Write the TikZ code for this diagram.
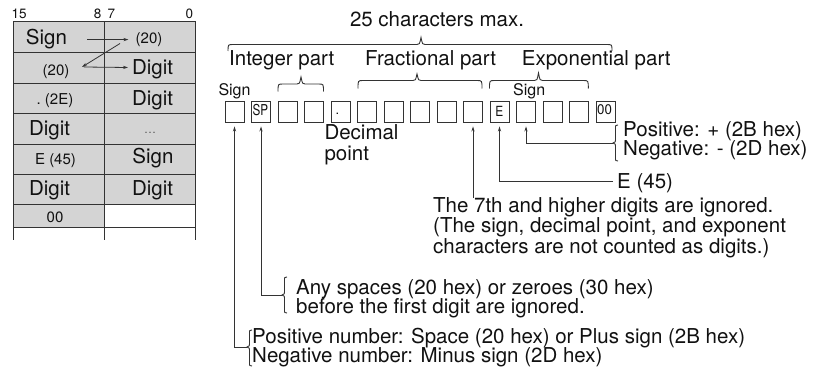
\documentclass[tikz,border=0pt]{standalone}
\usepackage{fontspec}
\usepackage{graphicx}
\setmainfont{TeX Gyre Heros}
\usetikzlibrary{arrows.meta,calc}
\definecolor{linecol}{HTML}{333333}
\definecolor{txtcol}{HTML}{111111}
\definecolor{cellgray}{HTML}{D4D4D4}
\newcommand{\hbrace}[6]{% xa, xb, xtip, yends, yline, ytip
  \draw[bracestyle] (#1,#4) .. controls (#1,#5) .. (#1+5,#5) -- (#3-4,#5)
    .. controls (#3-1.5,#5) .. (#3,#6) .. controls (#3+1.5,#5) .. (#3+4,#5)
    -- (#2-5,#5) .. controls (#2,#5) .. (#2,#4);}
\newcommand{\vbrace}[6]{% xends, xline, xtip, ytop, ybottom, ytip
  \draw[bracestyle] (#1,#4) .. controls (#2,#4) .. (#2,#4+4) -- (#2,#6-3)
    .. controls (#2,#6-1) .. (#3,#6) .. controls (#2,#6+1) .. (#2,#6+3)
    -- (#2,#5-4) .. controls (#2,#5) .. (#1,#5);}
\begin{document}
\begin{tikzpicture}[x=1pt,y=-1pt,
  line/.style={draw=linecol, line width=0.9pt},
  arr/.style={line, -{Stealth[length=5pt,width=3.2pt]}, shorten >=4pt},
  tarr/.style={draw=linecol, line width=0.8pt, -{Stealth[length=5pt,width=3.2pt]}},
  bracestyle/.style={draw=linecol, line width=0.9pt},
  maint/.style={font=\fontsize{20.5}{20}\selectfont, inner sep=0pt, text=txtcol},
  bigt/.style={font=\fontsize{20.5}{20}\selectfont, inner sep=0pt, text=txtcol, anchor=base},
  smallt/.style={font=\fontsize{15}{15}\selectfont, inner sep=0pt, text=txtcol, anchor=base},
  bitt/.style={font=\fontsize{13.5}{13.5}\selectfont, inner sep=0pt, text=txtcol, anchor=base},
  signt/.style={font=\fontsize{16}{16}\selectfont, inner sep=0pt, text=txtcol, anchor=base west},
  chbox/.style={draw=linecol, line width=0.9pt, minimum width=19pt, minimum height=21pt, inner sep=0pt},
  boxt/.style={inner sep=0pt, text=txtcol, anchor=base},
  grid/.style={draw=linecol, line width=1pt},
]
\useasboundingbox (0,0) rectangle (813,369);

% ---------------- table ----------------
\fill[cellgray] (13.3,21.7) rectangle (195.7,204);
\fill[cellgray] (13.3,204) rectangle (104.3,227.7);
\foreach \r in {21.7,52.7,83.3,113.3,144,174,204,227.7}
  \draw[grid] (13.3,\r) -- (195.7,\r);
\foreach \c in {13.3,104.3,195.7}
  \draw[grid] (\c,21.7) -- (\c,240);

\node[bitt, anchor=base west] (n15) at (11.5,18.3) {15};
\node[bitt, anchor=base east] (n8) at (101.7,18.3) {8};
\node[bitt, anchor=base west] (n7) at (107.3,18.3) {7};
\node[bitt, anchor=base east] (n0) at (193.3,18.3) {0};

\node[bigt] (L1) at (46.5,45) {Sign};
\node[smallt] (R1) at (149,44) {(20)};
\node[smallt] (L2) at (56,75) {(20)};
\node[bigt] (R2) at (152.5,74.5) {Digit};
\node[smallt] (L3) at (55,104) {.\ (2E)};
\node[bigt] (R3) at (152.5,105) {Digit};
\node[bigt] (L4) at (49.5,135.5) {Digit};
\node[font=\fontsize{12}{12}\selectfont, inner sep=0pt, text=txtcol!70, anchor=base] (R4) at (150,133) {\ldots};
\node[smallt] (L5) at (55.5,164.5) {E (45)};
\node[bigt] (R5) at (153,163) {Sign};
\node[bigt] (L6) at (49.5,195) {Digit};
\node[bigt] (R6) at (152.5,195) {Digit};
\node[smallt] (L7) at (55,222.5) {00};

\coordinate (z1) at (120,43.5);
\coordinate (z2) at (82,67);
\coordinate (z3) at (128,67.5);
\draw[tarr] ([xshift=20pt]L1.east) -- ([xshift=-7pt]L1.east -| R1.west);
\draw[tarr] (z1) -- (z2);
\draw[tarr] ([xshift=2pt]z2) -- (z3);

% ---------------- characters ----------------
\node[maint, anchor=base] (title) at (437,26.5) {25 characters max.};
\hbrace{228}{612}{421}{51}{44.5}{37.5}
\node[maint, anchor=base west] (intp) at (229,65) {Integer part};
\node[maint, anchor=base west] (frp) at (365,65) {Fractional part};
\node[maint, anchor=base west] (exp) at (521.7,65) {Exponential part};
\hbrace{278}{323.5}{301}{91.5}{84}{77}
\hbrace{358}{482}{417}{88.5}{80.5}{74}
\hbrace{489.5}{588.3}{538.5}{88.5}{80.5}{73}
\node[signt] (sg1) at (218.3,95) {Sign};
\node[signt] (sg2) at (513,95) {Sign};

\foreach \i in {1,...,15}
  \node[chbox] (b\i) at ({234.5+(\i-1)*26.5},111.5) {};
\node[boxt, font=\fontsize{15}{15}\selectfont] (tsp) at (260.3,115) {\scalebox{0.78}[1]{SP}};
\node[boxt, font=\fontsize{13}{13}\selectfont] (tdot) at (337.5,114.5) {.};
\node[boxt, font=\fontsize{14}{14}\selectfont] (tE) at (499.3,116.5) {\scalebox{0.85}[1]{E}};
\node[boxt, font=\fontsize{14}{14}\selectfont, anchor=base west] (t00) at (597,114.5) {\scalebox{0.95}[1]{00}};

\node[maint, anchor=base west] (dec1) at (324.3,139) {Decimal};
\node[maint, anchor=base west] (dec2) at (324.3,160) {point};

\node[maint, anchor=base west] (pos1) at (623,136) {Positive: + (2B hex)};
\node[maint, anchor=base west] (pos2) at (623,155.5) {Negative: - (2D hex)};
\vbrace{618}{615.5}{613}{125}{161}{143}
\node[maint, anchor=base west] (e45) at (617,188) {E (45)};

\node[maint, anchor=base west] (t7a) at (433,212) {The 7th and higher digits are ignored.};
\node[maint, anchor=base west] (t7b) at (433,232.5) {(The sign, decimal point, and exponent};
\node[maint, anchor=base west] (t7c) at (433,253) {characters are not counted as digits.)};

\node[maint, anchor=base west] (sp1) at (296,294.5) {Any spaces (20 hex) or zeroes (30 hex)};
\node[maint, anchor=base west] (sp2) at (296,313.5) {before the first digit are ignored.};
\vbrace{287}{284.5}{282}{277}{313}{295}

\node[maint, anchor=base west] (pn1) at (252,343.5) {Positive number: Space (20 hex) or Plus sign (2B hex)};
\node[maint, anchor=base west] (pn2) at (252,362) {Negative number: Minus sign (2D hex)};
\vbrace{252}{249.5}{247}{330}{366}{347}

\coordinate (kPN) at (613,143);
\coordinate (kE) at (613,181);
\coordinate (kSP) at (282,295);
\coordinate (kS) at (247,347);
\draw[arr] (kPN) -| (b12);
\draw[arr] (kE) -| (b11);
\draw[arr] ([yshift=-1pt]b10 |- t7a.north) -- (b10);
\draw[arr] (kSP) -| (b2);
\draw[arr] (kS) -| (b1);
\end{tikzpicture}
\end{document}
